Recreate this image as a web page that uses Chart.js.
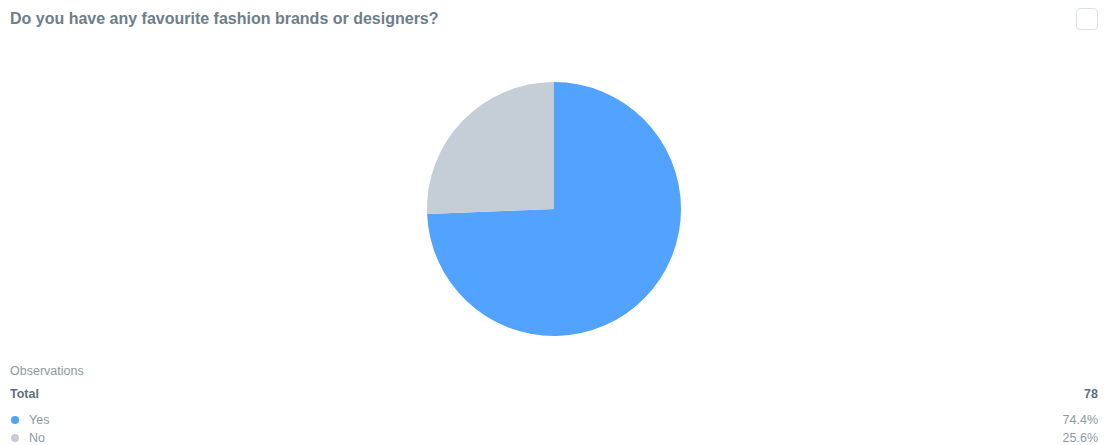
<!DOCTYPE html>
<html lang="en">
<head>
    <meta charset="UTF-8">
    <title>Favourite fashion brands</title>
    <script src="https://cdn.jsdelivr.net/npm/chart.js"></script>
    <style>
        body {
            margin: 0;
            width: 1104px;
            height: 445px;
            background: #ffffff;
            font-family: "Liberation Sans", Arial, sans-serif;
            position: relative;
            overflow: hidden;
        }
        h1 {
            position: absolute;
            left: 10px;
            top: 10px;
            margin: 0;
            font-size: 16px;
            font-weight: bold;
            color: #6d7e8a;
        }
        .check {
            position: absolute;
            left: 1076px;
            top: 8px;
            width: 20px;
            height: 20px;
            border: 1px solid #dde2e6;
            border-radius: 4px;
        }
        #wrap {
            position: absolute;
            left: 0;
            top: 82px;
            width: 1108px;
            height: 254px;
        }
        .row {
            position: absolute;
            left: 10px;
            width: 1088px;
            font-size: 12.5px;
            color: #8e9ba6;
        }
        .row .val { position: absolute; right: 0; top: 0; }
        .row.bold { font-weight: bold; color: #5f6f7b; }
        .dot {
            display: inline-block;
            width: 8px;
            height: 8px;
            border-radius: 50%;
            margin: 0 10px 0 1px;
        }
    </style>
</head>
<body>
    <h1>Do you have any favourite fashion brands or designers?</h1>
    <div class="check"></div>
    <div id="wrap"><canvas id="pie"></canvas></div>
    <div id="legend"></div>

    <script>
        const labels = ['Yes', 'No'];
        const counts = [58, 20];
        const shares = ['74.4%', '25.6%'];
        const total = 78;
        const colors = ['#52a3ff', '#c5ced6'];

        new Chart(document.getElementById('pie'), {
            type: 'pie',
            data: {
                labels: labels,
                datasets: [{
                    data: counts,
                    backgroundColor: colors,
                    borderWidth: 0
                }]
            },
            options: {
                responsive: true,
                maintainAspectRatio: false,
                animation: false,
                layout: { padding: 0 },
                plugins: {
                    legend: { display: false },
                    tooltip: { enabled: false }
                }
            }
        });

        const legend = document.getElementById('legend');
        let html = '<div class="row" style="top:364px">Observations</div>';
        html += '<div class="row bold" style="top:387px">Total<span class="val">' + total + '</span></div>';
        labels.forEach((l, i) => {
            html += '<div class="row" style="top:' + (413 + i * 18) + 'px">' +
                '<span class="dot" style="background:' + colors[i] + '"></span>' + l +
                '<span class="val">' + shares[i] + '</span></div>';
        });
        legend.innerHTML = html;
    </script>
</body>
</html>
